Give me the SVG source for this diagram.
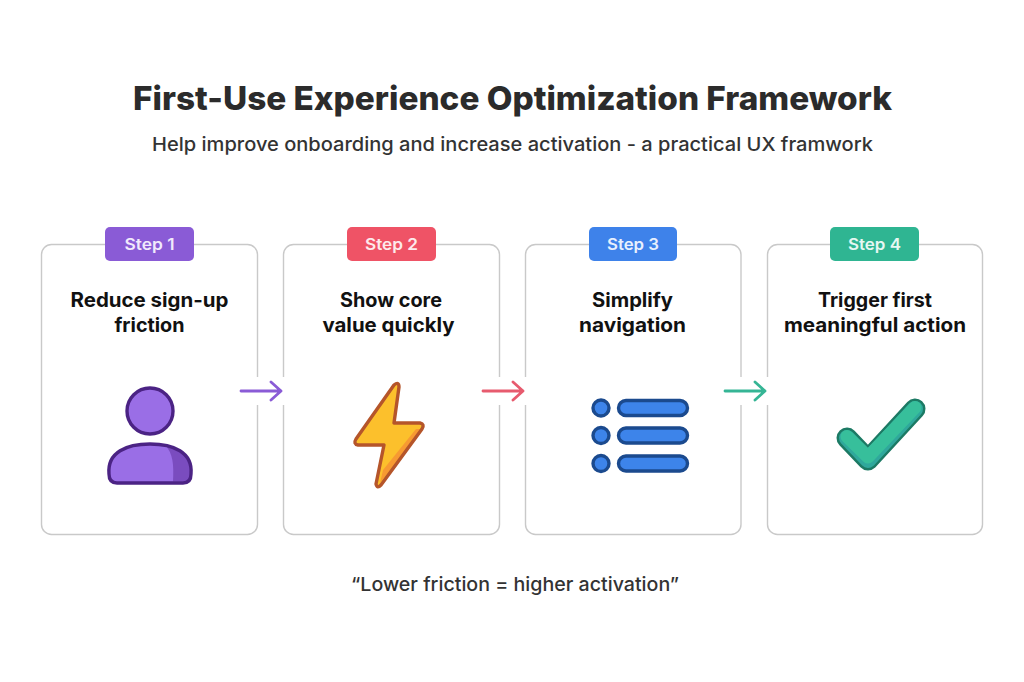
<svg xmlns="http://www.w3.org/2000/svg" width="1024" height="682" viewBox="0 0 1024 682">
<style>
text{font-family:"Inter","Liberation Sans",sans-serif;text-anchor:middle}
.title{font-size:33px;font-weight:800;fill:#2b2b2b}
.sub{font-size:19px;font-weight:500;fill:#333}
.quote{font-size:19px;font-weight:500;fill:#333}
.card{fill:#fff;stroke:#c9c9c9;stroke-width:1.4}
.step{font-size:16px;font-weight:600;fill:#f1eafc}
.head{font-size:20px;font-weight:700;fill:#111}
.conn{fill:none;stroke-width:2.8;stroke-linecap:round;stroke-linejoin:round}
.halo{fill:#fff}
</style>
<rect width="1024" height="682" fill="#fff"/>
<text class="title" x="512.500" y="110" textLength="759" lengthAdjust="spacingAndGlyphs">First-Use Experience Optimization Framework</text>
<text class="sub" x="512.500" y="151" textLength="721" lengthAdjust="spacingAndGlyphs">Help improve onboarding and increase activation - a practical UX framwork</text>

<g id="node-1">
<rect class="card" x="41.500" y="244.500" width="216" height="290" rx="10"/>
<rect x="105" y="227" width="89" height="34" rx="5" fill="#8a5bd6"/>
<text class="step" x="149.500" y="250" textLength="50" lengthAdjust="spacingAndGlyphs">Step 1</text>
<text class="head" x="149.500" y="307" textLength="158" lengthAdjust="spacingAndGlyphs">Reduce sign-up</text>
<text class="head" x="149.500" y="332" textLength="70" lengthAdjust="spacingAndGlyphs">friction</text>
<circle cx="150" cy="411" r="23" fill="#9a6ee6"/>
<path d="M166 395A23 23 0 0 1 134 428A22 22 0 0 0 166 395Z" fill="#8152cc"/>
<circle cx="150" cy="411" r="23" fill="none" stroke="#4b2384" stroke-width="3.400"/>
<path d="M109 474C107 452 127 444 150 444C173 444 193 452 191 474Q191 483 183 483H117Q109 483 109 474Z" fill="#9a6ee6"/>
<path d="M165 445C182 448 192 458 190 474Q190 481.500 183 481.500H173C174 465 173 453 165 445Z" fill="#7a4cbf"/>
<path d="M109 474C107 452 127 444 150 444C173 444 193 452 191 474Q191 483 183 483H117Q109 483 109 474Z" fill="none" stroke="#4b2384" stroke-width="3.400"/>
</g>

<g id="node-2">
<rect class="card" x="283.500" y="244.500" width="216" height="290" rx="10"/>
<rect x="347" y="227" width="89" height="34" rx="5" fill="#ef5366"/>
<text class="step" x="391.500" y="250" textLength="53" lengthAdjust="spacingAndGlyphs" style="fill:#fdeaec">Step 2</text>
<text class="head" x="391" y="307" textLength="102" lengthAdjust="spacingAndGlyphs">Show core</text>
<text class="head" x="388.500" y="332" textLength="132" lengthAdjust="spacingAndGlyphs">value quickly</text>
<path d="M394 385Q399 381 399 387L394 423H420Q425 424 422 429L381 485Q377 489 376 484L384 445H358Q353 444 356 439Z" fill="#fcc02c"/>
<path d="M416 429H421.500L380 483L383 470Z" fill="#f79a32"/>
<path d="M394 385Q399 381 399 387L394 423H420Q425 424 422 429L381 485Q377 489 376 484L384 445H358Q353 444 356 439Z" fill="none" stroke="#b5552a" stroke-width="3.400" stroke-linejoin="round"/>
</g>

<g id="node-3">
<rect class="card" x="525.500" y="244.500" width="215.500" height="290" rx="10"/>
<rect x="589" y="227" width="88" height="34" rx="5" fill="#3e82ea"/>
<text class="step" x="633" y="250" textLength="52" lengthAdjust="spacingAndGlyphs" style="fill:#e8f0fd">Step 3</text>
<text class="head" x="632.500" y="307" textLength="81" lengthAdjust="spacingAndGlyphs">Simplify</text>
<text class="head" x="632.500" y="332" textLength="107" lengthAdjust="spacingAndGlyphs">navigation</text>
<g fill="#3d84ea" stroke="#1b4a8e" stroke-width="3.400">
<circle cx="601" cy="408" r="8"/><rect x="618.500" y="400.500" width="69" height="15" rx="7.500"/>
<circle cx="601" cy="435.500" r="8"/><rect x="618.500" y="428" width="69" height="15" rx="7.500"/>
<circle cx="601" cy="463.500" r="8"/><rect x="618.500" y="456" width="69" height="15" rx="7.500"/>
</g>
</g>

<g id="node-4">
<rect class="card" x="767.500" y="244.500" width="215" height="290" rx="10"/>
<rect x="830" y="227" width="89" height="34" rx="5" fill="#2fb592"/>
<text class="step" x="874.500" y="250" textLength="53" lengthAdjust="spacingAndGlyphs" style="fill:#e6f7f2">Step 4</text>
<text class="head" x="875" y="307" textLength="114" lengthAdjust="spacingAndGlyphs">Trigger first</text>
<text class="head" x="875" y="332" textLength="182" lengthAdjust="spacingAndGlyphs">meaningful action</text>
<path d="M847 438L868 460L915 409" fill="none" stroke="#1c7a64" stroke-width="21" stroke-linecap="round" stroke-linejoin="round"/>
<path d="M847 438L868 460L915 409" fill="none" stroke="#2fa89c" stroke-width="16" stroke-linecap="round" stroke-linejoin="round"/>
<path d="M847 436.500L868 457L915 407.500" fill="none" stroke="#37bf9b" stroke-width="13" stroke-linecap="round" stroke-linejoin="round"/>
</g>

<g id="connectors">
<rect class="halo" x="252" y="377" width="36" height="28"/>
<path class="conn" stroke="#8a5bd6" d="M241 391H281M271 382L281 391L271 400"/>
<rect class="halo" x="494" y="377" width="36" height="28"/>
<path class="conn" stroke="#e75b6e" d="M483 391H523M513 382L523 391L513 400"/>
<rect class="halo" x="736" y="377" width="36" height="28"/>
<path class="conn" stroke="#35b595" d="M725 391H765M755 382L765 391L755 400"/>
</g>

<text class="quote" x="515" y="591" textLength="328" lengthAdjust="spacingAndGlyphs">“Lower friction = higher activation”</text>
</svg>
